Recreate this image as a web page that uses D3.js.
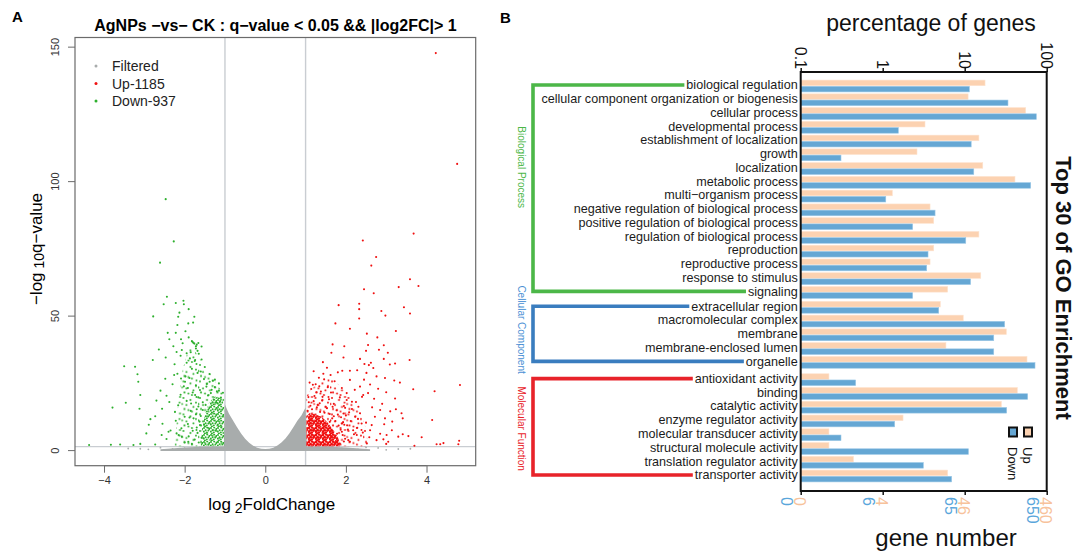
<!DOCTYPE html>
<html>
<head>
<meta charset="utf-8">
<script src="https://cdn.jsdelivr.net/npm/d3@7"></script>
<style>
body { margin: 0; background: #fff; }
text { font-family: "Liberation Sans", Arial, Helvetica, sans-serif; }
</style>
</head>
<body>
<svg id="fig" width="1077" height="554"></svg>
<script>
// ---------- panel A : volcano ----------
var volcanoTitle = "AgNPs \u2212vs\u2212 CK : q\u2212value < 0.05 && |log2FC|> 1";
var legendA = ["Filtered", "Up-1185", "Down-937"];
var xTicksA = [-4, -2, 0, 2, 4];
var yTicksA = [0, 50, 100, 150];
var fcCut = 1;
var qCut = 0.05;

// outline of the dense grey cloud (log2FC, -log10q)
var filteredCloud = [[-2.6, -0.3], [-2.6, 0.3], [-2.0, 1.0], [-1.5, 1.3], [-1.03, 1.3], [-1.0, 17], [-0.95, 15.2],
  [-0.9, 13.5], [-0.8, 11], [-0.7, 8.5], [-0.6, 6.2], [-0.5, 4.2], [-0.4, 2.7], [-0.3, 1.6], [-0.2, 0.9],
  [-0.1, 0.5], [0, 0.4], [0.1, 0.5], [0.2, 0.9], [0.3, 1.7], [0.4, 2.8], [0.5, 4.3], [0.6, 6.3], [0.7, 8.6],
  [0.8, 11], [0.9, 13], [0.97, 15], [1.0, 15.8], [1.03, 1.3], [1.5, 1.3], [2.0, 1.0], [2.6, 0.3], [2.6, -0.3]];
var filteredLoose = [[-2.3, 0.4], [-2.0, 0.7], [-1.8, 0.2], [-3.1, 0.5], [-2.6, 0.9], [-2.9, 0.3], [-3.4, 0.6],
  [1.9, 0.6], [2.3, 0.3], [2.8, 0.8], [3.3, 0.4], [2.5, 1.0], [3.0, 0.1], [3.6, 0.5], [-1.3, 0.8], [1.3, 0.9]];
// outlines of the crowded parts of the coloured clouds
var downHalo = [[-1.02, 1.4], [-1.02, 20], [-1.15, 23.5], [-1.35, 28], [-1.55, 32], [-1.75, 37], [-1.9, 38],
  [-2.05, 30], [-2.15, 20], [-2.2, 10], [-2.25, 1.4]];
var downCore = [[-1.02, 1.5], [-1.02, 17], [-1.1, 19.5], [-1.25, 20], [-1.4, 17.5], [-1.5, 13], [-1.58, 7], [-1.6, 1.5]];
var upHalo = [[1.02, 1.4], [1.02, 20], [1.15, 23], [1.35, 25], [1.6, 27], [1.85, 24], [2.1, 20], [2.35, 14],
  [2.5, 8], [2.55, 1.4]];
var upCore = [[1.02, 1.4], [1.02, 12.5], [1.1, 13.8], [1.25, 13.2], [1.4, 12.4], [1.55, 10.2], [1.7, 7.2], [1.82, 4.2], [1.85, 1.4]];

var downPoints = [[-2.47, 93.3], [-2.27, 77.6], [-2.61, 69.7], [-2.44, 57], [-2.52, 54.2], [-2.22, 54.7], [-2.03, 55.5],
  [-2.02, 54.2], [-2.78, 49.7], [-2.13, 51.1], [-2.16, 49.6], [-1.90, 52.4], [-1.76, 49.6], [-1.91, 47.1], [-1.79, 47.4],
  [-2.18, 46.5], [-2.42, 43.6], [-2.22, 43.6], [-2.09, 41.2], [-1.80, 40.2], [-1.66, 39.8], [-1.58, 38.5], [-2.64, 37.4],
  [-2.47, 34.4], [-2.79, 33.5], [-2.2, 36.5], [-2.07, 37.2], [-1.95, 36], [-1.87, 34.1], [-1.74, 33.5], [-3.50, 31.2],
  [-3.23, 31], [-3.17, 28.2], [-3.15, 25.4], [-3.10, 20.5], [-3.12, 15.4], [-3.46, 17.6], [-3.79, 15.8], [-4.37, 1.9],
  [-3.83, 2], [-3.60, 2.1], [-3.27, 1.9], [-3.10, 2.3], [-2.73, 2.1], [-2.89, 9.4], [-2.73, 12.6], [-2.56, 15.4],
  [-2.45, 20.2], [-2.38, 17.9], [-2.24, 14.2], [-2.16, 16.7], [-2.26, 27.9], [-2.09, 26.6], [-1.99, 25.4], [-2.57, 5.6],
  [-2.4, 6.8], [-2.2, 6.2], [-2.07, 5], [-1.91, 3.1], [-1.82, 40.5], [-1.76, 39.6], [-1.7, 39.2], [-1.72, 37.8], [-1.68, 36.9],
  [-1.1, 19.5], [-1.15, 22.1], [-1.2, 17.6], [-1.25, 23.4], [-1.3, 25.8], [-1.35, 21.2], [-1.38, 28.3], [-1.45, 24.6],
  [-1.5, 30.9], [-1.52, 26.4], [-1.58, 33.7], [-1.6, 29.2], [-1.65, 35.8], [-1.68, 28.7], [-1.72, 38.6], [-1.75, 33.1],
  [-1.78, 39.8], [-1.82, 30.2], [-1.85, 36.4], [-1.9, 41.9], [-1.95, 32.5], [-1.98, 44.2], [-2.05, 39.7], [-2.1, 35.1],
  [-1.62, 22.3], [-1.66, 19.6], [-1.72, 24.1], [-1.8, 21.4], [-1.88, 26.8], [-1.95, 18.3], [-2.02, 23.7], [-2.1, 20.6],
  [-2.18, 28.4], [-2.25, 31.9], [-2.3, 24.5], [-1.7, 15.2], [-1.78, 11.8], [-1.85, 14.6], [-1.92, 9.7], [-2.0, 12.4],
  [-2.08, 8.1], [-2.15, 5.6], [-2.22, 10.9], [-2.35, 7.3], [-2.45, 4.1], [-2.55, 9.8], [-1.68, 6.4], [-1.75, 3.9],
  [-1.82, 2.3], [-1.9, 5.1], [-2.0, 2.8], [-1.6, 12.7], [-1.55, 17.8], [-2.28, 38.6], [-2.38, 41.2], [-2.48, 26.5],
  [-2.6, 22.1], [-2.7, 18.4], [-2.85, 11.5], [-2.95, 6.2], [-1.62, 9.3], [-1.66, 16.2], [-1.74, 20.5], [-1.84, 17.3],
  [-1.92, 23.1], [-1.98, 27.4], [-1.05, 21.3], [-1.12, 18.2], [-1.2, 21.9], [-1.28, 18.7], [-1.33, 22.4], [-1.42, 20.3],
  [-1.48, 16.8], [-1.55, 14.9], [-1.63, 10.6], [-1.7, 8.4], [-1.58, 4.6], [-1.65, 2.8], [-1.72, 13.3], [-1.8, 7.2],
  [-1.88, 12.1], [-1.52, 9.5], [-1.46, 23.6], [-1.38, 25.4], [-1.25, 26.2], [-1.15, 24.8]];

var upPoints = [[4.23, 147.6], [4.76, 106.4], [3.68, 80.5], [2.42, 77.9], [2.75, 71.8], [2.63, 68.6], [3.59, 63.5],
  [3.80, 61], [3.31, 60.6], [2.45, 59.8], [2.69, 58.3], [1.82, 53.9], [2.33, 54.4], [3.44, 53.1], [2.88, 51.7],
  [2.33, 52.4], [2.98, 50], [3.59, 50.8], [2.33, 48.9], [1.74, 47.1], [2.10, 45.1], [3.24, 44.3], [2.52, 43.3],
  [2.78, 41.9], [2.55, 39.1], [1.67, 39.3], [2.94, 39], [1.96, 38.6], [1.64, 36.2], [2.50, 36.9], [2.82, 37.3],
  [3.04, 36.2], [3.58, 33.5], [1.94, 34.4], [2.35, 33.9], [2.94, 33.9], [3.22, 32.2], [1.43, 32.7], [2.46, 32],
  [2.57, 31.6], [2.62, 32.5], [1.91, 29.5], [2.1, 29.5], [2.28, 29.7], [2.51, 28.7], [2.68, 30.5], [2.76, 27.4],
  [2.97, 26.8], [3.09, 31.8], [4.83, 24.2], [4.2, 21.9], [3.67, 22.6], [3.34, 25.1], [3.22, 19.2], [3.24, 15.2],
  [3.38, 13.7], [3.41, 11.8], [4.14, 11.2], [3.88, 4.8], [4.25, 2.2], [4.34, 2.2], [4.42, 2.6], [4.81, 3.5], [4.79, 2.2],
  [3.7, 1.6], [3.55, 5.2], [3.41, 5.9], [3.30, 5], [3.14, 7.4], [3.01, 5.6], [2.93, 4], [3.05, 3.1], [2.72, 12.4],
  [2.85, 14.9], [2.97, 11.8], [2.64, 9.3], [2.76, 3.7], [2.52, 2.5], [2.60, 7.4], [2.35, 23.6], [2.43, 20.5], [2.31, 16.1],
  [2.23, 12.4], [2.18, 7.4], [2.27, 5.6], [2.39, 9.9], [2.1, 26.1], [2.02, 18.6], [1.94, 13.6], [1.90, 9.9], [2.06, 3.7],
  [1.12, 16.5], [1.2, 18.2], [1.28, 15.9], [1.35, 17.4], [1.42, 19.8], [1.5, 16.1], [1.58, 18.9], [1.63, 21.4], [1.7, 17.2],
  [1.77, 14.8], [1.85, 19.6], [1.9, 23.1], [1.95, 16.4], [2.02, 21.2], [2.08, 14.1], [2.15, 18.0], [2.22, 22.4], [2.3, 11.6],
  [1.14, 22.7], [1.25, 24.5], [1.38, 21.8], [1.46, 26.3], [1.55, 23.4], [1.62, 27.9], [1.72, 25.6], [1.8, 28.9], [1.88, 12.2],
  [1.96, 9.4], [2.05, 7.6], [2.12, 10.8], [2.2, 5.9], [2.28, 8.3], [2.35, 13.7], [2.42, 6.5], [2.5, 10.2], [2.58, 4.8],
  [2.65, 15.9], [1.6, 10.5], [1.7, 12.6], [1.82, 9.1], [1.9, 6.8], [1.98, 4.2], [2.1, 3.1], [1.65, 5.2], [1.75, 3.4],
  [1.85, 2.4], [2.0, 12.9], [2.15, 15.3], [2.25, 17.9], [2.4, 19.8], [2.55, 21.2], [1.53, 30.6], [1.44, 28.4], [1.33, 26.9],
  [1.2, 29.3], [1.07, 19.7], [1.1, 25.1], [2.45, 26.2], [2.6, 24.4], [2.7, 19.1], [2.8, 22.8], [2.9, 17.2], [3.0, 21.5],
  [2.95, 9.6], [3.1, 14.4], [3.2, 25.9], [2.85, 6.1], [3.0, 2.3], [3.15, 10.6], [1.05, 14.6], [1.08, 17.8], [1.16, 15.2],
  [1.22, 20.1], [1.3, 16.8], [1.36, 14.2], [1.41, 18.4], [1.47, 13.9], [1.53, 15.6], [1.6, 13.4], [1.67, 16.1], [1.74, 10.8],
  [1.8, 13.2], [1.87, 7.6], [1.93, 10.4], [1.98, 15.7], [1.12, 11.1], [1.57, 8.9], [1.66, 11.8], [1.78, 6.1], [1.95, 3.2],
  [1.92, 5.6], [2.03, 9.2], [1.18, 24.3], [1.27, 21.5], [1.34, 23.7]];

// ---------- panel B : GO enrichment ----------
var goTerms = ["biological regulation", "cellular component organization or biogenesis", "cellular process",
  "developmental process", "establishment of localization", "growth", "localization", "metabolic process",
  "multi\u2212organism process", "negative regulation of biological process", "positive regulation of biological process",
  "regulation of biological process", "reproduction", "reproductive process", "response to stimulus", "signaling",
  "extracellular region", "macromolecular complex", "membrane", "membrane-enclosed lumen", "organelle",
  "antioxidant activity", "binding", "catalytic activity", "enzyme regulator activity", "molecular transducer activity",
  "structural molecule activity", "translation regulator activity", "transporter activity"];
var goGroup = [0, 0, 0, 0, 0, 0, 0, 0, 0, 0, 0, 0, 0, 0, 0, 0, 1, 1, 1, 1, 1, 2, 2, 2, 2, 2, 2, 2, 2];
var groupNames = ["Biological Process", "Cellular Component", "Molecular Function"];
var upPct = [17.7, 11.0, 55.4, 3.28, 14.9, 2.62, 16.6, 41, 1.31, 3.78, 4.19, 14.9, 4.19, 3.78, 15.7, 6.2,
  5.04, 9.6, 32.2, 5.9, 57.5, 0.221, 43.8, 28, 1.77, 0.221, 0.221, 0.44, 6.2];
var downPct = [11.4, 33.7, 74.7, 1.55, 12.0, 0.31, 12.9, 63.8, 1.09, 4.35, 2.32, 10.3, 3.57, 3.44, 11.8, 2.32,
  4.82, 30.7, 22.6, 22.6, 72, 0.468, 58.6, 32.5, 1.40, 0.31, 11.1, 3.13, 6.93];
var pctTicks = [0.1, 1, 10, 100];
var downGeneLabels = ["0", "6", "65", "650"];
var upGeneLabels = ["0", "4", "46", "460"];
var seriesNames = ["Up", "Down"];

var upColor = "#fcd2b1", downColor = "#65a7d4";
var filteredColor = "#a8acac", redColor = "#f01010", greenColor = "#2eb02e";
var groupColors = ["#4cb748", "#3a7dbf", "#e8232a"];
var groupTextColors = ["#4cb748", "#4a8fd4", "#e8232a"];

var svg = d3.select("#fig");
var defs = svg.append("defs");

// speckle fills for crowded point areas
function speckle(id, color, tile, r, spots) {
  var p = defs.append("pattern").attr("id", id).attr("patternUnits", "userSpaceOnUse")
    .attr("width", tile).attr("height", tile);
  spots.forEach(function (s) {
    p.append("circle").attr("cx", s[0]).attr("cy", s[1]).attr("r", r).attr("fill", color);
  });
}
var denseSpots = [[1, 1], [4.2, 0.6], [2.6, 3.2], [5.4, 3.6], [0.8, 4.6], [3.8, 5.6], [6.3, 1.9], [1.9, 6.6]];
var looseSpots = [[2, 2], [9, 4], [5, 9], [12, 11], [3, 13], [10.5, 15.5], [14.5, 6.5], [7, 14], [15, 1], [0.5, 8]];
speckle("redDense", redColor, 7, 1.4, denseSpots);
speckle("greenDense", greenColor, 7, 1.0, denseSpots);
speckle("redLoose", redColor, 16.5, 1.0, looseSpots);
speckle("greenLoose", greenColor, 16.5, 1.0, looseSpots);

// ===== panel A =====
var xA = d3.scaleLinear().domain([-4.72, 5.22]).range([75, 475.7]);
var yA = d3.scaleLinear().domain([-5.8, 153.4]).range([465.7, 37.5]);
var gA = svg.append("g");

defs.append("clipPath").attr("id", "clipA")
  .append("rect").attr("x", 75).attr("y", 37.5).attr("width", 400.7).attr("height", 428.2);

gA.append("text").attr("x", 12).attr("y", 22).style("font-weight", "bold").style("font-size", "15px").text("A");
gA.append("text").attr("x", 275.5).attr("y", 31).attr("text-anchor", "middle")
  .style("font-weight", "bold").style("font-size", "16px").text(volcanoTitle);

var plotA = gA.append("g").attr("clip-path", "url(#clipA)");

// threshold lines
[-fcCut, fcCut].forEach(function (v) {
  plotA.append("line").attr("x1", xA(v)).attr("x2", xA(v)).attr("y1", yA.range()[0]).attr("y2", yA.range()[1])
    .attr("stroke", "#c9cdd2").attr("stroke-width", 1.4);
});
plotA.append("line").attr("x1", xA.range()[0]).attr("x2", xA.range()[1])
  .attr("y1", yA(-Math.log10(qCut))).attr("y2", yA(-Math.log10(qCut)))
  .attr("stroke", "#c9cdd2").attr("stroke-width", 1.4);

var outline = d3.line().x(function (d) { return xA(d[0]); }).y(function (d) { return yA(d[1]); })
  .curve(d3.curveLinearClosed);

plotA.append("path").datum(filteredCloud).attr("d", outline).attr("fill", filteredColor);
plotA.selectAll(".gp").data(filteredLoose).enter().append("circle")
  .attr("cx", function (d) { return xA(d[0]); }).attr("cy", function (d) { return yA(d[1]); })
  .attr("r", 0.9).attr("fill", filteredColor);

plotA.append("path").datum(downHalo).attr("d", outline).attr("fill", "url(#greenLoose)");
plotA.append("path").datum(downCore).attr("d", outline).attr("fill", "url(#greenDense)");
plotA.selectAll(".dp").data(downPoints).enter().append("circle")
  .attr("cx", function (d) { return xA(d[0]); }).attr("cy", function (d) { return yA(d[1]); })
  .attr("r", 1.05).attr("fill", greenColor);

plotA.append("path").datum(upHalo).attr("d", outline).attr("fill", "url(#redLoose)");
plotA.append("path").datum(upCore).attr("d", outline).attr("fill", "url(#redDense)");
plotA.selectAll(".up").data(upPoints).enter().append("circle")
  .attr("cx", function (d) { return xA(d[0]); }).attr("cy", function (d) { return yA(d[1]); })
  .attr("r", 1.05).attr("fill", redColor);

// box
gA.append("rect").attr("x", 75).attr("y", 37.5).attr("width", 400.7).attr("height", 428.2)
  .attr("fill", "none").attr("stroke", "#6b6b6b").attr("stroke-width", 1.2);

// axes
var axXA = gA.append("g").attr("transform", "translate(0," + yA.range()[0] + ")")
  .call(d3.axisBottom(xA).tickValues(xTicksA).tickSize(7).tickPadding(4));
axXA.select(".domain").remove();
axXA.append("line").attr("x1", xA(xTicksA[0])).attr("x2", xA(xTicksA[xTicksA.length - 1]))
  .attr("stroke", "#6b6b6b");
axXA.selectAll("line").attr("stroke", "#6b6b6b");
axXA.selectAll("text").style("font-size", "11px").attr("fill", "#333");

var axYA = gA.append("g").attr("transform", "translate(" + xA.range()[0] + ",0)")
  .call(d3.axisLeft(yA).tickValues(yTicksA).tickSize(7));
axYA.select(".domain").remove();
axYA.selectAll("line").attr("stroke", "#6b6b6b");
axYA.selectAll("text").style("font-size", "11px").attr("fill", "#333")
  .attr("x", 0).attr("y", -16.5).attr("dy", 0).attr("text-anchor", "middle").attr("transform", "rotate(-90)");

var xl = gA.append("text").attr("x", 271.7).attr("y", 510).attr("text-anchor", "middle").style("font-size", "17px");
xl.append("tspan").text("log");
xl.append("tspan").attr("dy", 3).style("font-size", "14px").text(" 2");
xl.append("tspan").attr("dy", -3).text("FoldChange");

var yl = gA.append("text").attr("transform", "translate(42,249) rotate(-90)").attr("text-anchor", "middle")
  .style("font-size", "17px");
yl.append("tspan").text("\u2212log");
yl.append("tspan").attr("dy", 2).style("font-size", "14px").text(" 10");
yl.append("tspan").attr("dy", -2).text("q\u2212value");

// legend
var legColors = [filteredColor, redColor, greenColor];
var legA = gA.selectAll(".lega").data(legendA).enter().append("g")
  .attr("transform", function (d, i) { return "translate(96," + (66 + i * 17.5) + ")"; });
legA.append("circle").attr("r", 1.5).attr("fill", function (d, i) { return legColors[i]; });
legA.append("text").attr("x", 16).attr("y", 5).style("font-size", "14px").attr("fill", "#222")
  .text(function (d) { return d; });

// ===== panel B =====
var xB = d3.scaleLog().domain([0.1, 100]).range([800.7, 1046.7]);
var boxTop = 72, boxBottom = 491;
var groupShift = [0, 0.08, 0.34];
var rowY = d3.scaleLinear().domain([0, goTerms.length - 1 + groupShift[2]]).range([86, 476]);
function rowCenter(i) { return rowY(i + groupShift[goGroup[i]]); }

var gB = svg.append("g");
gB.append("text").attr("x", 500).attr("y", 23).style("font-weight", "bold").style("font-size", "15px").text("B");

// bars
var barH = 5.6;
gB.selectAll(".barUp").data(upPct).enter().append("rect")
  .attr("x", xB(0.1)).attr("y", function (d, i) { return rowCenter(i) - barH - 0.3; })
  .attr("width", function (d) { return xB(d) - xB(0.1); }).attr("height", barH)
  .attr("fill", upColor).attr("stroke", "#fde3cf").attr("stroke-width", 0.6);
gB.selectAll(".barDown").data(downPct).enter().append("rect")
  .attr("x", xB(0.1)).attr("y", function (d, i) { return rowCenter(i) + 0.3; })
  .attr("width", function (d) { return xB(d) - xB(0.1); }).attr("height", barH)
  .attr("fill", downColor).attr("stroke", "#9cc8e6").attr("stroke-width", 0.6);

// term labels
var labelRight = xB.range()[0] - 3;
var termText = gB.selectAll(".term").data(goTerms).enter().append("text")
  .attr("x", labelRight).attr("y", function (d, i) { return rowCenter(i) + 3.3; })
  .attr("text-anchor", "end").style("font-size", "12.6px").attr("fill", "#1b1b1b")
  .text(function (d) { return d; });
var termWidth = [];
termText.each(function () { termWidth.push(this.getComputedTextLength()); });

// brackets
var bracketX = 533;
var groupLabelRow = [5.9, 17.7, 24.9];
groupNames.forEach(function (name, g) {
  var idx = d3.range(goTerms.length).filter(function (i) { return goGroup[i] === g; });
  var first = idx[0], last = idx[idx.length - 1];
  var y1 = rowCenter(first) - 1, y2 = rowCenter(last) - 1;
  var x1 = labelRight - termWidth[first] - 2, x2 = labelRight - termWidth[last] - 2;
  gB.append("path")
    .attr("d", "M" + x1 + "," + y1 + "H" + bracketX + "V" + y2 + "H" + x2)
    .attr("fill", "none").attr("stroke", groupColors[g]).attr("stroke-width", 3.6)
    .attr("stroke-linejoin", "miter");
  gB.append("text")
    .attr("transform", "translate(521.5," + rowY(groupLabelRow[g]) + ") rotate(90)")
    .attr("text-anchor", "middle").attr("dy", "0.35em").style("font-size", "10px")
    .attr("fill", groupTextColors[g]).text(name);
});

// frame
gB.append("rect").attr("x", xB.range()[0]).attr("y", boxTop).attr("width", xB.range()[1] - xB.range()[0])
  .attr("height", boxBottom - boxTop).attr("fill", "none").attr("stroke", "#111").attr("stroke-width", 2);

// top axis (percentage)
var axTop = gB.append("g").attr("transform", "translate(0," + boxTop + ")")
  .call(d3.axisTop(xB).tickValues(pctTicks).tickSize(4).tickFormat(""));
axTop.select(".domain").remove();
axTop.selectAll("line").attr("stroke", "#111").attr("stroke-width", 1.5);
gB.selectAll(".pctLab").data(pctTicks).enter().append("text")
  .attr("transform", function (d) { return "translate(" + xB(d) + ",69) rotate(90)"; })
  .attr("text-anchor", "end").attr("dy", "0.35em").style("font-size", "16px").attr("fill", "#111")
  .text(function (d) { return d; });
gB.append("text").attr("x", 931).attr("y", 31).attr("text-anchor", "middle").style("font-size", "23px")
  .attr("fill", "#111").text("percentage of genes");

// bottom axis (gene number)
var axBot = gB.append("g").attr("transform", "translate(0," + boxBottom + ")")
  .call(d3.axisBottom(xB).tickValues(pctTicks).tickSize(4).tickFormat(""));
axBot.select(".domain").remove();
axBot.selectAll("line").attr("stroke", "#111").attr("stroke-width", 1.5);
gB.selectAll(".downLab").data(pctTicks).enter().append("text")
  .attr("transform", function (d) { return "translate(" + (xB(d) - 14) + ",497) rotate(90)"; })
  .attr("dy", "0.35em").style("font-size", "16px").attr("fill", "#5aa6db")
  .text(function (d, i) { return downGeneLabels[i]; });
gB.selectAll(".upLab").data(pctTicks).enter().append("text")
  .attr("transform", function (d) { return "translate(" + (xB(d) - 1) + ",497) rotate(90)"; })
  .attr("dy", "0.35em").style("font-size", "16px").attr("fill", "#f7c29b")
  .text(function (d, i) { return upGeneLabels[i]; });
gB.append("text").attr("x", 946).attr("y", 546).attr("text-anchor", "middle").style("font-size", "24px")
  .attr("fill", "#111").text("gene number");

// side title
gB.append("text").attr("transform", "translate(1064,288) rotate(90)").attr("text-anchor", "middle")
  .attr("dy", "0.35em").style("font-size", "22px").style("font-weight", "bold").attr("fill", "#111")
  .text("Top 30 of GO Enrichment");

// legend
var legB = gB.selectAll(".legb").data(seriesNames).enter().append("g")
  .attr("transform", function (d, i) { return "translate(" + (1028 - i * 15) + ",432)"; });
legB.append("rect").attr("x", -4).attr("y", -4.5).attr("width", 8).attr("height", 9)
  .attr("fill", function (d, i) { return i === 0 ? upColor : downColor; })
  .attr("stroke", "#111").attr("stroke-width", 2);
legB.append("text").attr("transform", "translate(0,15) rotate(90)").attr("dy", "0.35em")
  .style("font-size", "13px").attr("fill", "#111").text(function (d) { return d; });
</script>
</body>
</html>
